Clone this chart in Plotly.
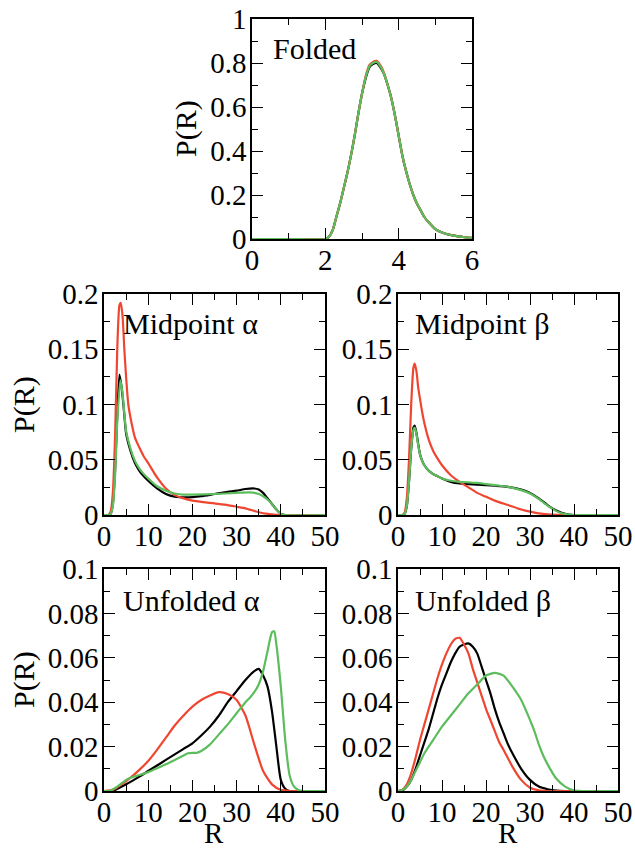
import plotly.graph_objects as go

# ---------------- data ----------------
# Folded
fold_R = [0, 1, 2.0, 2.1, 2.2, 2.3, 2.4, 2.5, 2.6, 2.7, 2.8, 2.9, 3.0, 3.1, 3.2, 3.3, 3.4, 3.5, 3.6, 3.7,
          3.8, 3.9, 4.0, 4.1, 4.2, 4.3, 4.4, 4.5, 4.6, 4.7, 4.8, 5.0, 5.2, 5.5, 5.8, 6.0]
fold_black = [0, 0, 0, 0.01, 0.04, 0.10, 0.16, 0.23, 0.30, 0.38, 0.47, 0.57, 0.66, 0.73, 0.78, 0.795, 0.80, 0.78,
              0.75, 0.70, 0.64, 0.56, 0.47, 0.38, 0.31, 0.25, 0.20, 0.16, 0.13, 0.10, 0.08, 0.045, 0.028, 0.015, 0.008, 0.005]
fold_red = [0, 0, 0, 0.01, 0.04, 0.10, 0.16, 0.23, 0.30, 0.38, 0.47, 0.57, 0.66, 0.74, 0.79, 0.805, 0.81, 0.79,
            0.755, 0.70, 0.64, 0.56, 0.47, 0.38, 0.31, 0.25, 0.20, 0.16, 0.13, 0.10, 0.08, 0.045, 0.028, 0.015, 0.008, 0.005]
fold_green = [0, 0, 0, 0.01, 0.04, 0.10, 0.16, 0.23, 0.30, 0.38, 0.47, 0.57, 0.66, 0.735, 0.785, 0.80, 0.805, 0.785,
              0.75, 0.70, 0.64, 0.56, 0.47, 0.38, 0.31, 0.25, 0.20, 0.16, 0.13, 0.10, 0.08, 0.045, 0.028, 0.015, 0.008, 0.005]

# Midpoint alpha
ma_red_R = [0, 1, 1.5, 2, 2.5, 3, 3.5, 3.8, 4.2, 4.6, 5, 5.5, 6, 7, 8, 9, 10, 12, 14, 16, 18, 20, 25, 28, 30, 32,
            35, 37, 40, 50]
ma_red_P = [0, 0, 0.003, 0.02, 0.07, 0.15, 0.19, 0.192, 0.18, 0.15, 0.125, 0.10, 0.088, 0.07, 0.061, 0.053,
            0.047, 0.034, 0.024, 0.018, 0.015, 0.013, 0.0105, 0.009, 0.0075, 0.006, 0.0025, 0.001, 0, 0]
ma_black_R = [0, 1, 1.5, 2, 2.5, 3, 3.5, 4, 4.5, 5, 6, 7, 8, 9, 10, 12, 14, 16, 18, 20, 22, 25, 28, 30, 32, 34,
              35, 36, 37, 38, 39, 40, 41, 50]
ma_black_P = [0, 0, 0.001, 0.01, 0.04, 0.09, 0.127, 0.115, 0.095, 0.074, 0.058, 0.047, 0.040, 0.035, 0.031,
              0.024, 0.019, 0.0165, 0.016, 0.0162, 0.017, 0.019, 0.021, 0.022, 0.0235, 0.024, 0.023, 0.020,
              0.015, 0.010, 0.005, 0.001, 0, 0]
ma_green_R = [0, 1, 1.5, 2, 2.5, 3, 3.7, 4.2, 4.6, 5, 6, 7, 8, 9, 10, 12, 14, 16, 18, 20, 25, 30, 33, 35, 36, 37,
              38, 39, 40, 41, 50]
ma_green_P = [0, 0, 0.001, 0.008, 0.035, 0.085, 0.122, 0.11, 0.092, 0.076, 0.060, 0.049, 0.042, 0.037, 0.033,
              0.026, 0.022, 0.0195, 0.0185, 0.0185, 0.019, 0.020, 0.0205, 0.019, 0.017, 0.014, 0.010, 0.005,
              0.001, 0, 0]

# Midpoint beta
mb_red_R = [0, 1, 1.5, 2, 2.5, 3, 3.5, 3.8, 4.2, 4.6, 5, 5.5, 6, 7, 8, 9, 10, 12, 14, 16, 18, 20, 22, 25, 28, 30,
            32, 35, 38, 50]
mb_red_P = [0, 0, 0.002, 0.015, 0.05, 0.10, 0.133, 0.137, 0.13, 0.115, 0.105, 0.093, 0.083, 0.068, 0.058, 0.051,
            0.045, 0.036, 0.030, 0.025, 0.020, 0.0165, 0.013, 0.009, 0.005, 0.003, 0.0015, 0.0003, 0, 0]
mb_black_R = [0, 1, 1.5, 2, 2.5, 3, 3.5, 3.8, 4.2, 4.6, 5, 5.5, 6, 7, 8, 9, 10, 12, 14, 16, 18, 20, 22, 25, 28,
              30, 32, 34, 36, 38, 40, 50]
mb_black_P = [0, 0, 0.001, 0.008, 0.03, 0.06, 0.079, 0.081, 0.074, 0.064, 0.055, 0.049, 0.045, 0.040, 0.037,
              0.035, 0.033, 0.030, 0.0285, 0.028, 0.0275, 0.027, 0.0265, 0.0255, 0.023, 0.020, 0.015, 0.009,
              0.004, 0.001, 0, 0]
mb_green_R = [0, 1, 1.5, 2, 2.5, 3, 3.5, 3.8, 4.2, 4.6, 5, 5.5, 6, 7, 8, 9, 10, 12, 14, 16, 18, 20, 22, 25, 28,
              30, 32, 34, 36, 38, 40, 50]
mb_green_P = [0, 0, 0.001, 0.008, 0.03, 0.06, 0.077, 0.079, 0.073, 0.063, 0.055, 0.049, 0.045, 0.040, 0.037,
              0.035, 0.033, 0.031, 0.030, 0.0295, 0.029, 0.028, 0.027, 0.0255, 0.0225, 0.0195, 0.0145, 0.0085,
              0.0035, 0.0008, 0, 0]

# Unfolded alpha
ua_red_R = [0, 2, 4, 6, 8, 10, 12, 14, 16, 18, 20, 22, 24, 26, 28, 30, 32, 34, 36, 38, 40, 42, 50]
ua_red_P = [0, 0.0005, 0.003, 0.006, 0.0095, 0.0135, 0.0185, 0.024, 0.0295, 0.034, 0.038, 0.041, 0.043, 0.0445,
            0.0437, 0.041, 0.034, 0.021, 0.009, 0.003, 0.0005, 0, 0]
ua_black_R = [0, 2, 3, 5, 8, 10, 12, 14, 16, 18, 20, 22, 24, 26, 28, 30, 32, 34, 35, 36, 37, 38, 39, 40, 41, 42, 50]
ua_black_P = [0, 0, 0.001, 0.003, 0.0065, 0.009, 0.0115, 0.014, 0.0165, 0.019, 0.0215, 0.025, 0.029, 0.034, 0.040,
              0.045, 0.050, 0.054, 0.055, 0.052, 0.047, 0.036, 0.020, 0.005, 0.001, 0, 0]
ua_green_R = [0, 1, 2, 3, 4, 5, 6, 8, 10, 12, 14, 16, 18, 19, 20, 21, 22, 24, 26, 28, 30, 32, 33, 34, 35, 36, 37,
              38, 38.5, 39, 40, 41, 42, 43, 44, 45, 50]
ua_green_P = [0, 0, 0.0008, 0.002, 0.0035, 0.005, 0.006, 0.0072, 0.0085, 0.0102, 0.012, 0.014, 0.016, 0.017,
              0.0172, 0.0172, 0.018, 0.021, 0.0255, 0.030, 0.035, 0.040, 0.042, 0.0445, 0.048, 0.054, 0.063,
              0.0715, 0.072, 0.066, 0.047, 0.023, 0.007, 0.002, 0.0005, 0, 0]

# Unfolded beta
ub_red_R = [0, 1, 2, 3, 4, 5, 6, 7, 8, 9, 10, 11, 12, 13, 14, 15, 16, 17, 18, 19, 20, 21, 22, 23, 24, 26, 28, 30,
            32, 34, 50]
ub_red_P = [0, 0.0005, 0.003, 0.008, 0.015, 0.023, 0.030, 0.037, 0.044, 0.051, 0.057, 0.062, 0.066, 0.0685,
            0.069, 0.066, 0.062, 0.055, 0.049, 0.043, 0.037, 0.032, 0.027, 0.022, 0.0185, 0.011, 0.005, 0.0015,
            0.0003, 0, 0]
ub_black_R = [0, 1, 2, 3, 4, 5, 6, 7, 8, 9, 10, 11, 12, 13, 14, 15, 16, 17, 18, 19, 20, 21, 22, 23, 24, 25, 26,
              28, 30, 32, 34, 36, 38, 50]
ub_black_P = [0, 0.0003, 0.002, 0.005, 0.010, 0.016, 0.022, 0.028, 0.035, 0.042, 0.048, 0.053, 0.058, 0.062,
              0.065, 0.066, 0.0665, 0.065, 0.062, 0.056, 0.050, 0.044, 0.037, 0.031, 0.026, 0.021, 0.017, 0.010,
              0.005, 0.002, 0.0008, 0.0002, 0, 0]
ub_green_R = [0, 1, 2, 3, 4, 5, 6, 8, 10, 12, 14, 16, 18, 20, 22, 24, 26, 28, 30, 31, 32, 33, 34, 36, 38, 40, 42,
              50]
ub_green_P = [0, 0.0005, 0.002, 0.005, 0.009, 0.013, 0.017, 0.023, 0.029, 0.034, 0.039, 0.044, 0.048, 0.052,
              0.0532, 0.052, 0.047, 0.041, 0.032, 0.027, 0.021, 0.016, 0.012, 0.0055, 0.002, 0.0003, 0, 0]

panel_titles = ["Folded", "Midpoint α", "Midpoint β", "Unfolded α", "Unfolded β"]
yticks_fold = [0, 0.2, 0.4, 0.6, 0.8, 1]
yticks_fold_text = ["0", "0.2", "0.4", "0.6", "0.8", "1"]
yticks_mid = [0, 0.05, 0.1, 0.15, 0.2]
yticks_mid_text = ["0", "0.05", "0.1", "0.15", "0.2"]
yticks_unf = [0, 0.02, 0.04, 0.06, 0.08, 0.1]
yticks_unf_text = ["0", "0.02", "0.04", "0.06", "0.08", "0.1"]
xticks_fold = [0, 2, 4, 6]
xticks_R = [0, 10, 20, 30, 40, 50]
x_title = "R"
y_title = "P(R)"

# ---------------- style ----------------
BLACK = "#000000"
RED = "#ef4631"
GREEN = "#5dbd5d"
FONT = "Liberation Serif"
TICK_SIZE = 29
W, H = 635, 850

# panel boxes in pixels: (left, right, top, bottom)
boxes = [
    (252, 472, 19, 239),
    (104, 325, 294, 515),
    (398, 618, 294, 515),
    (104, 325, 569, 791),
    (398, 618, 569, 791),
]

fig = go.Figure()

curves = [
    [(fold_R, fold_black, BLACK), (fold_R, fold_red, RED), (fold_R, fold_green, GREEN)],
    [(ma_black_R, ma_black_P, BLACK), (ma_red_R, ma_red_P, RED), (ma_green_R, ma_green_P, GREEN)],
    [(mb_black_R, mb_black_P, BLACK), (mb_red_R, mb_red_P, RED), (mb_green_R, mb_green_P, GREEN)],
    [(ua_black_R, ua_black_P, BLACK), (ua_red_R, ua_red_P, RED), (ua_green_R, ua_green_P, GREEN)],
    [(ub_black_R, ub_black_P, BLACK), (ub_red_R, ub_red_P, RED), (ub_green_R, ub_green_P, GREEN)],
]

yranges = [[0, 1], [0, 0.2], [0, 0.2], [0, 0.1], [0, 0.1]]
xranges = [[0, 6], [0, 50], [0, 50], [0, 50], [0, 50]]
ytv = [(yticks_fold, yticks_fold_text, 0.1), (yticks_mid, yticks_mid_text, 0.025),
       (yticks_mid, yticks_mid_text, 0.025), (yticks_unf, yticks_unf_text, 0.01),
       (yticks_unf, yticks_unf_text, 0.01)]
xtv = [(xticks_fold, 1), (xticks_R, 5), (xticks_R, 5), (xticks_R, 5), (xticks_R, 5)]

layout = {}
for i, (l, r, t, b) in enumerate(boxes):
    n = "" if i == 0 else str(i + 1)
    for xs, ys, c in curves[i]:
        fig.add_trace(go.Scatter(x=xs, y=ys, mode="lines", line=dict(color=c, width=2.2, shape="spline", smoothing=0.6),
                                 xaxis="x" + n, yaxis="y" + n, showlegend=False, hoverinfo="skip"))
    yv, yt, ymin = ytv[i]
    xv, xmin = xtv[i]
    layout["xaxis" + n] = dict(
        domain=[l / W, r / W], anchor="y" + n, range=xranges[i], automargin=False, fixedrange=True,
        tickvals=xv, ticks="inside", ticklen=11, tickwidth=1.3, tickcolor="black",
        minor=dict(dtick=xmin, tick0=0, ticks="inside", ticklen=6, tickwidth=1.3, tickcolor="black"),
        showline=True, linecolor="black", linewidth=1.5, mirror="ticks",
        showgrid=False, zeroline=False, ticklabelstandoff=-6,
        tickfont=dict(family=FONT, size=TICK_SIZE, color="black"),
    )
    layout["yaxis" + n] = dict(
        domain=[1 - b / H, 1 - t / H], anchor="x" + n, range=yranges[i], automargin=False, fixedrange=True,
        tickvals=yv, ticktext=yt, ticks="inside", ticklen=11, tickwidth=1.3, tickcolor="black",
        minor=dict(dtick=ymin, tick0=0, ticks="inside", ticklen=6, tickwidth=1.3, tickcolor="black"),
        showline=True, linecolor="black", linewidth=1.5, mirror="ticks",
        showgrid=False, zeroline=False, ticklabelstandoff=-2,
        tickfont=dict(family=FONT, size=TICK_SIZE, color="black"),
    )

annotations = []
label_pos = [(271, 49), (121, 324), (413, 324), (121, 600), (413, 600)]
for (x, y), txt in zip(label_pos, panel_titles):
    annotations.append(dict(x=x / W, y=1 - y / H, xref="paper", yref="paper", text=txt, showarrow=False,
                            xanchor="left", yanchor="middle",
                            font=dict(family=FONT, size=30, color="black")))
# axis titles
for cx, cy in [(186, 129), (24, 405), (24, 680)]:
    annotations.append(dict(x=cx / W, y=1 - cy / H, xref="paper", yref="paper", text=y_title, showarrow=False,
                            textangle=-90, xanchor="center", yanchor="middle",
                            font=dict(family=FONT, size=30, color="black")))
for cx in [214, 508]:
    annotations.append(dict(x=cx / W, y=0, xref="paper", yref="paper", text=x_title, showarrow=False,
                            xanchor="center", yanchor="bottom", borderpad=0,
                            font=dict(family=FONT, size=29, color="black")))

fig.update_layout(
    width=W, height=H, margin=dict(l=0, r=0, t=0, b=0),
    paper_bgcolor="white", plot_bgcolor="white",
    annotations=annotations, **layout,
)

fig.write_html("out.html", config={"displayModeBar": False},
               post_script="document.body.style.margin='0px';document.body.style.overflow='hidden';")
